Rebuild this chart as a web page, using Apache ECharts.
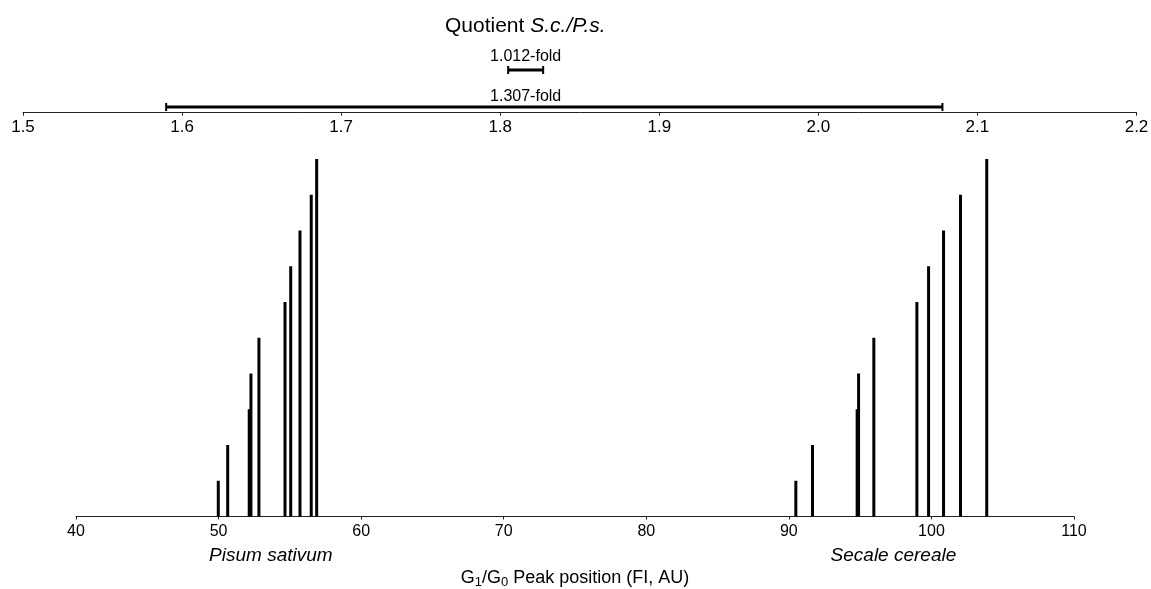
<!DOCTYPE html>
<html>
<head>
<meta charset="utf-8">
<script src="https://cdn.jsdelivr.net/npm/echarts@6/dist/echarts.min.js"></script>
<style>
html,body{margin:0;padding:0;background:#fff;}
#main{width:1151px;height:589px;}
</style>
</head>
<body>
<div id="main"></div>
<script>
// G1/G0 peak positions (FI, AU) and their rank (bar height)
var pisumPos = [49.98, 50.64, 52.15, 52.27, 52.83, 54.66, 55.06, 55.71, 56.50, 56.88];
var pisumRank = [1, 2, 3, 4, 5, 6, 7, 8, 9, 10];
var secalePos = [90.49, 91.66, 94.79, 94.89, 95.96, 98.98, 99.80, 100.85, 102.04, 103.88];
var secaleRank = [1, 2, 3, 4, 5, 6, 7, 8, 9, 10];

// quotient S.c./P.s. ranges: [low, high]
var quotientRanges = [[1.590, 2.078], [1.805, 1.827]];

var peakTicks = [40, 110, 10];      // min, max, interval
var quotTicks = [1.5, 2.2, 0.1];

var FONT = 'Liberation Sans, Arial, sans-serif';
var rowLift = [5.7, 42.7];   // px above top axis line for each range bar
var labelLift = [16, 56.5];  // px above top axis line for each label

function pairs(xs, ys) {
    return xs.map(function (x, i) { return [x, ys[i]]; });
}
function mean(a) {
    return a.reduce(function (s, v) { return s + v; }, 0) / a.length;
}

var myChart = echarts.init(document.getElementById('main'));

var option = {
    animation: false,
    textStyle: { fontFamily: FONT },
    title: {
        left: 440,
        top: 11,
        text: '{n|Quotient }{i|S.c./P.s.}',
        textStyle: {
            fontWeight: 'normal',
            rich: {
                n: { fontSize: 21, color: '#000', fontWeight: 'normal', fontFamily: FONT },
                i: { fontSize: 21, color: '#000', fontWeight: 'normal', fontStyle: 'italic', fontFamily: FONT }
            }
        }
    },
    grid: [
        { left: 76, width: 998, top: 159, height: 357.5, containLabel: false, outerBoundsMode: 'none' },
        { left: 23, width: 1113.5, top: 20, height: 92.7, containLabel: false, outerBoundsMode: 'none' }
    ],
    xAxis: [
        {
            gridIndex: 0,
            type: 'value',
            min: peakTicks[0], max: peakTicks[1], interval: peakTicks[2],
            splitLine: { show: false },
            axisLine: { lineStyle: { color: '#222', width: 1 } },
            axisTick: { show: true, length: 3, lineStyle: { color: '#222' } },
            axisLabel: { color: '#000', fontSize: 16, margin: 7, fontFamily: FONT },
            name: '{n|G}{s|1}{n|/G}{s|0}{n| Peak position (FI, AU)}',
            nameLocation: 'middle',
            nameGap: 52,
            nameTextStyle: {
                rich: {
                    n: { fontSize: 18, color: '#000', fontFamily: FONT, lineHeight: 20 },
                    s: { fontSize: 13, color: '#000', fontFamily: FONT, lineHeight: 20, verticalAlign: 'bottom' }
                }
            }
        },
        {
            gridIndex: 1,
            type: 'value',
            min: quotTicks[0], max: quotTicks[1], interval: quotTicks[2],
            splitLine: { show: false },
            axisLine: { lineStyle: { color: '#222', width: 1 } },
            axisTick: { show: true, length: 3, lineStyle: { color: '#222' } },
            axisLabel: {
                color: '#000', fontSize: 17, margin: 6, fontFamily: FONT,
                formatter: function (v) { return v.toFixed(1); }
            }
        }
    ],
    yAxis: [
        { gridIndex: 0, type: 'value', min: 0, max: 10, show: false },
        { gridIndex: 1, type: 'value', min: 0, max: 1, show: false }
    ],
    series: [
        {
            name: 'Pisum sativum',
            type: 'bar',
            xAxisIndex: 0, yAxisIndex: 0,
            barWidth: 3,
            barGap: '-100%',
            itemStyle: { color: '#000' },
            data: pairs(pisumPos, pisumRank)
        },
        {
            name: 'Secale cereale',
            type: 'bar',
            xAxisIndex: 0, yAxisIndex: 0,
            barWidth: 3,
            barGap: '-100%',
            itemStyle: { color: '#000' },
            data: pairs(secalePos, secaleRank)
        },
        {
            name: 'Quotient',
            type: 'custom',
            xAxisIndex: 1, yAxisIndex: 1,
            data: quotientRanges,
            renderItem: function (params, api) {
                var i = params.dataIndex;
                var lo = api.coord([api.value(0), 0]);
                var hi = api.coord([api.value(1), 0]);
                var y = lo[1] - rowLift[i];
                var narrow = quotientRanges[quotientRanges.length - 1];
                var lx = (api.coord([narrow[0], 0])[0] + api.coord([narrow[1], 0])[0]) / 2;
                var fold = (api.value(1) / api.value(0)).toFixed(3) + '-fold';
                var st = { stroke: '#000', lineWidth: 3 };
                var cap = { stroke: '#000', lineWidth: 2 };
                return {
                    type: 'group',
                    children: [
                        { type: 'line', shape: { x1: lo[0], y1: y, x2: hi[0], y2: y }, style: st },
                        { type: 'line', shape: { x1: lo[0], y1: y - 4, x2: lo[0], y2: y + 4 }, style: cap },
                        { type: 'line', shape: { x1: hi[0], y1: y - 4, x2: hi[0], y2: y + 4 }, style: cap },
                        {
                            type: 'text',
                            style: {
                                x: lx, y: lo[1] - labelLift[i], text: fold,
                                fill: '#000', font: '16px ' + FONT,
                                align: 'center', verticalAlign: 'middle'
                            }
                        }
                    ]
                };
            }
        }
    ]
};

myChart.setOption(option);

// species names centred under each cluster
var pPix = myChart.convertToPixel({ xAxisIndex: 0, yAxisIndex: 0 }, [mean(pisumPos), 0]);
var sPix = myChart.convertToPixel({ xAxisIndex: 0, yAxisIndex: 0 }, [mean(secalePos), 0]);
myChart.setOption({
    graphic: [
        {
            type: 'text', x: pPix[0], y: pPix[1] + 39,
            style: { text: 'Pisum sativum', font: 'italic 19px ' + FONT, fill: '#000', align: 'center', verticalAlign: 'middle' }
        },
        {
            type: 'text', x: sPix[0], y: sPix[1] + 39,
            style: { text: 'Secale cereale', font: 'italic 19px ' + FONT, fill: '#000', align: 'center', verticalAlign: 'middle' }
        }
    ]
});

window.addEventListener('resize', function () { myChart.resize(); });
</script>
</body>
</html>
